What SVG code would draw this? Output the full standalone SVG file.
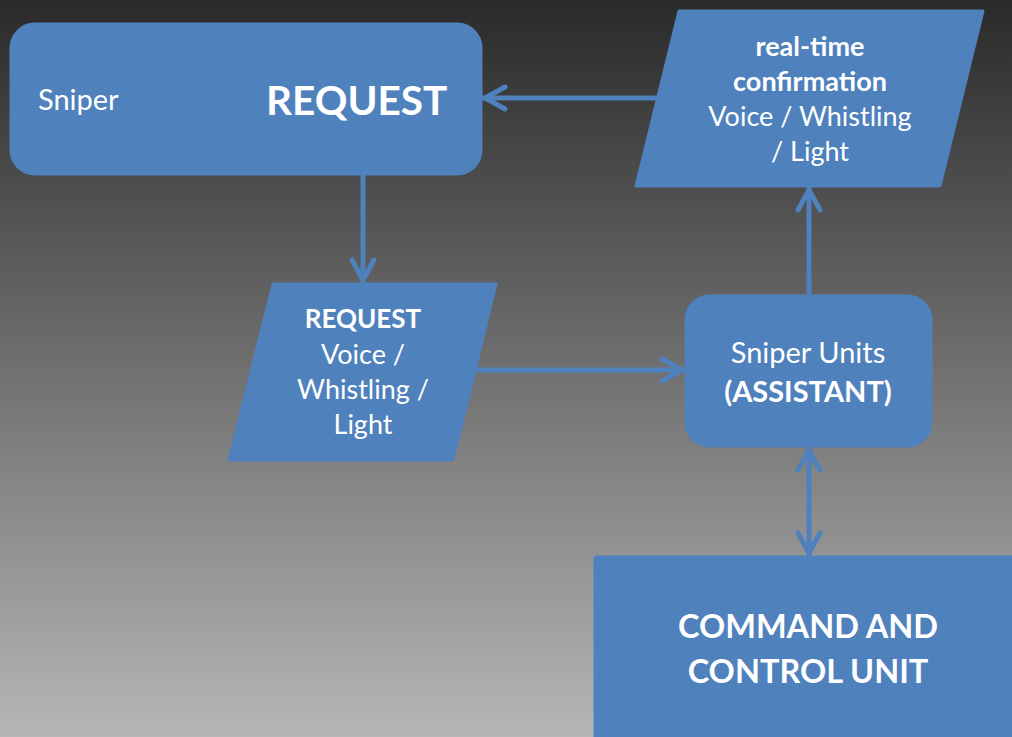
<svg xmlns="http://www.w3.org/2000/svg" width="1012" height="737" viewBox="0 0 1012 737">
<style>
.shape{fill:#4F81BD;stroke:#4F81BD;stroke-width:3;stroke-linejoin:round}
.conn{fill:none;stroke:#4F81BD;stroke-width:5;stroke-linecap:butt}
text{font-family:Lato,"Open Sans","Liberation Sans",sans-serif;fill:#FFFFFF}
.c{text-anchor:middle}
.b{font-weight:bold}
</style>
<defs>
<linearGradient id="bg" x1="0" y1="0" x2="0" y2="1">
<stop offset="0" stop-color="#2a2a2a"/>
<stop offset="1" stop-color="#b6b6b6"/>
</linearGradient>
<marker id="arr" markerUnits="userSpaceOnUse" viewBox="-26 -16 32 32" refX="3" refY="0" markerWidth="32" markerHeight="32" orient="auto-start-reverse">
<path d="M-20,-11 L0,0 L-20,11" fill="none" stroke="#4F81BD" stroke-width="5" stroke-linecap="round" stroke-linejoin="miter"/>
</marker>
</defs>
<rect x="0" y="0" width="1012" height="737" fill="url(#bg)"/>
<g id="connectors">
<path class="conn" d="M657,98 L482,98" marker-end="url(#arr)"/>
<path class="conn" d="M363,175 L363,283" marker-end="url(#arr)"/>
<path class="conn" d="M475,370 L685,370" marker-end="url(#arr)"/>
<path class="conn" d="M809,295 L809,187" marker-end="url(#arr)"/>
<path class="conn" d="M809,447 L809,556" marker-start="url(#arr)" marker-end="url(#arr)"/>
</g>
<g id="sniper-request">
<rect class="shape" x="11" y="24" width="470" height="150" rx="24"/>
<text x="38" y="110" font-size="29">Sniper</text>
<text x="266" y="115" font-size="40.5" class="b">REQUEST</text>
</g>
<g id="confirmation">
<path class="shape" d="M679,11 L983,11 L940,186 L636,186 Z"/>
<text class="c b" x="810" y="56" font-size="27">real-time</text>
<text class="c b" x="810" y="91" font-size="27">confirmation</text>
<text class="c" x="810" y="126" font-size="27">Voice / Whistling</text>
<text class="c" x="810" y="161" font-size="27">/ Light</text>
</g>
<g id="request-signal">
<path class="shape" d="M273,284 L496,284 L453,460 L229,460 Z"/>
<text class="c b" x="363" y="328" font-size="26">REQUEST</text>
<text class="c" x="363" y="364" font-size="27">Voice /</text>
<text class="c" x="363" y="399" font-size="27">Whistling /</text>
<text class="c" x="363" y="434" font-size="27">Light</text>
</g>
<g id="sniper-units">
<rect class="shape" x="686" y="296" width="245" height="150" rx="24"/>
<text class="c" x="808" y="363" font-size="29">Sniper Units</text>
<text class="c b" x="808" y="402" font-size="29">(ASSISTANT)</text>
</g>
<g id="command">
<rect class="shape" x="595" y="557" width="430" height="200" rx="2"/>
<text class="c b" x="808" y="638" font-size="32.5">COMMAND AND</text>
<text class="c b" x="808" y="683" font-size="32.5">CONTROL UNIT</text>
</g>
</svg>
